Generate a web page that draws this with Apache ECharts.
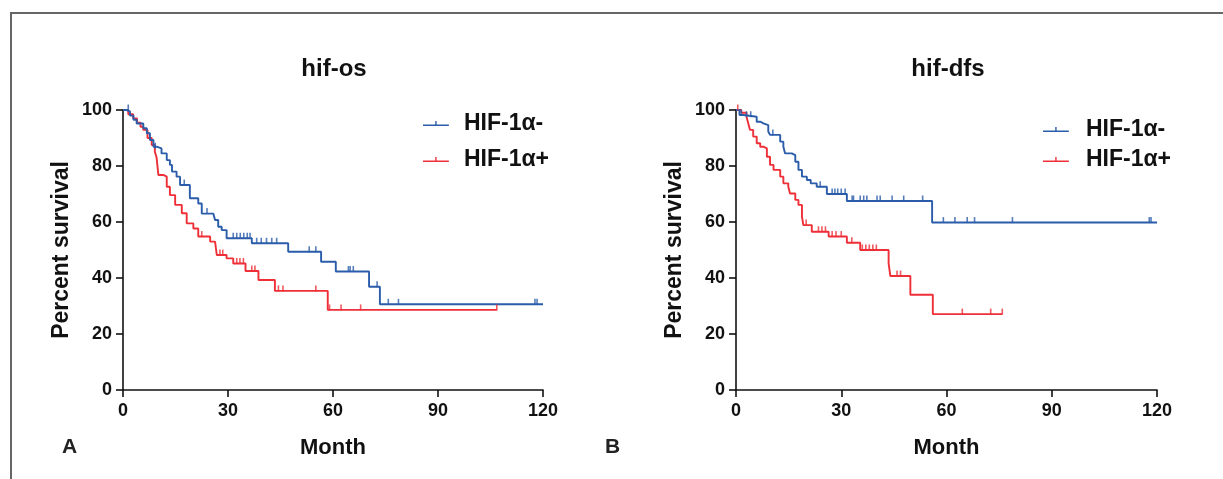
<!DOCTYPE html>
<html>
<head>
<meta charset="utf-8">
<script src="https://cdn.jsdelivr.net/npm/echarts@6/dist/echarts.min.js"></script>
<style>html,body{margin:0;padding:0;background:#fff}#c{width:1223px;height:479px}</style>
</head>
<body>
<div id="c"></div>
<script>
// ---- data ----
const xTicks = [0, 30, 60, 90, 120];
const yTicks = [0, 20, 40, 60, 80, 100];
const seriesNames = ['HIF-1α-', 'HIF-1α+'];
const panelTitles = ['hif-os', 'hif-dfs'];
const panelLetters = ['A', 'B'];

// OS, HIF-1α- : [month, percent survival] step points
const osNeg = [[0,100],[1,99.5],[2,98],[3,96.5],[3.9,95.2],[5.8,93.5],[6.8,91.7],[7.7,89.3],[8.7,86.9],[9.6,86.3],[11,84.5],[12.5,82.1],[13.4,80.4],[14,78],[15.3,76.2],[16.3,73.2],[19.1,68.5],[21.5,66.6],[22.5,63],[25.8,62.5],[26.3,60.7],[27.2,58.3],[28.2,57.1],[29.6,54.2],[36.8,52.4],[47.2,49.4],[56.6,45.8],[60.8,42.3],[70.3,36.9],[73.4,30.6],[120,30.6]];
const osNegCens = [[1.5,100],[9.2,86.3],[17.5,73.2],[24,63],[31.5,54.2],[32.5,54.2],[33.5,54.2],[34.5,54.2],[35.5,54.2],[36.3,54.2],[38.2,52.4],[39.5,52.4],[41,52.4],[42.5,52.4],[43.9,52.4],[53.2,49.4],[55.1,49.4],[64.4,42.3],[64.9,42.3],[65.8,42.3],[72.6,36.9],[75.8,30.6],[78.7,30.6],[117.7,30.6],[118.3,30.6]];
// OS, HIF-1α+
const osPos = [[0,100],[1.5,98.5],[2.9,97],[4,95.5],[5,94],[5.8,92.9],[7,90],[8.2,87.5],[9.1,85.1],[9.6,83],[10.1,76.8],[11.5,76.2],[12.5,72.6],[13.4,69.6],[14.9,66.1],[16.8,63.1],[18.2,59.5],[20.1,57.7],[21.5,54.8],[24.9,53],[26.3,52.4],[26.8,48.2],[29.6,47],[31.5,45.2],[35,42.5],[38.7,39.3],[43.4,35.4],[58.5,28.6],[106.8,28.6]];
const osPosCens = [[22.5,54.8],[27.7,48.2],[28.5,48.2],[32.5,45.2],[33.4,45.2],[34.4,45.2],[36.8,42.5],[37.7,42.5],[44.4,35.4],[45.7,35.4],[55.1,35.4],[59,28.6],[62.3,28.6],[67.9,28.6],[106.8,28.6]];
// DFS, HIF-1α-
const dfsNeg = [[0,100],[1,98.2],[2.1,97.6],[5.9,95.8],[7,95.2],[7.8,94.6],[9.2,92.3],[9.7,91.1],[12.6,88.7],[13.5,86.9],[14,84.5],[15.9,83.9],[16.9,81.5],[17.8,78.6],[18.8,76.2],[20.2,75],[21.3,73.8],[23,72.6],[25.9,70],[31.6,67.5],[55.9,59.8],[120,59.8]];
const dfsNegCens = [[1.5,98.2],[3,97.6],[4.2,97.6],[10.5,91.1],[24,72.6],[27.4,70],[28.2,70],[29,70],[30,70],[31.1,70],[33.1,67.5],[33.5,67.5],[35.4,67.5],[36.4,67.5],[37.3,67.5],[40.2,67.5],[41.1,67.5],[44.5,67.5],[47.8,67.5],[53.2,67.5],[59.1,59.8],[62.4,59.8],[65.9,59.8],[68,59.8],[78.8,59.8],[117.8,59.8],[118.3,59.8]];
// DFS, HIF-1α+
const dfsPos = [[0,100],[1.5,99],[3,97.6],[3.5,95.2],[4,92.9],[4.9,90.5],[5.9,88.1],[6.9,86.9],[7.8,86.3],[8.8,83.3],[9.7,80.4],[10.7,78.6],[12.6,76.2],[13.5,73.8],[14.9,72.6],[15.4,70.2],[16.9,67.9],[17.8,66.1],[18.8,61.9],[19.2,58.9],[21.6,56.5],[26.4,54.8],[31.6,52.6],[35.4,50],[43.5,45.2],[44,40.7],[49.7,34],[56.1,27.1],[75.9,27.1]];
const dfsPosCens = [[0.5,100],[20,58.9],[23.5,56.5],[24.5,56.5],[25.5,56.5],[27.4,54.8],[28.5,54.8],[30,54.8],[33,52.6],[36,50],[37,50],[38,50],[39,50],[40,50],[45.9,40.7],[46.9,40.7],[64.5,27.1],[72.6,27.1],[75.9,27.1]];

const curves = [[osNeg, osPos], [dfsNeg, dfsPos]];
const censors = [[osNegCens, osPosCens], [dfsNegCens, dfsPosCens]];

// ---- styling ----
const FONT = '"Liberation Sans", Arial, sans-serif';
const colors = ['#2a5caa', '#ee2f37'];
const gridBoxes = [{left:123, top:110, width:420, height:280}, {left:736, top:110, width:421, height:280}];
const legendPos = [{left:418, top:107, itemGap:13, pad:8}, {left:1038, top:113, itemGap:7, pad:10}];
const titleX = [329, 943];
const letterX = [57, 600];
const legendIcon = 'path://M0,4h30v1.8h-30z M14.2,0h1.6v4h-1.6z';

const chart = echarts.init(document.getElementById('c'), null, {renderer:'canvas'});

const xAxes = [], yAxes = [], series = [], titles = [], legends = [];
for (let p = 0; p < 2; p++) {
  xAxes.push({
    gridIndex: p, type: 'value', min: xTicks[0], max: xTicks[xTicks.length-1], interval: 30,
    name: 'Month', nameLocation: 'middle', nameGap: 47,
    nameTextStyle: {fontFamily: FONT, fontWeight: 'bold', fontSize: 22, color: '#111'},
    axisLine: {show: true, onZero: false, lineStyle: {color: '#111', width: 1.6}},
    axisTick: {show: true, length: 7, lineStyle: {color: '#111', width: 1.6}},
    axisLabel: {margin: 12, fontFamily: FONT, fontWeight: 'bold', fontSize: 18, color: '#111'},
    splitLine: {show: false}
  });
  yAxes.push({
    gridIndex: p, type: 'value', min: yTicks[0], max: yTicks[yTicks.length-1], interval: 20,
    name: 'Percent survival', nameLocation: 'middle', nameGap: 50,
    nameTextStyle: {fontFamily: FONT, fontWeight: 'bold', fontSize: 23, color: '#111'},
    axisLine: {show: true, onZero: false, lineStyle: {color: '#111', width: 1.6}},
    axisTick: {show: true, length: 7, lineStyle: {color: '#111', width: 1.6}},
    axisLabel: {margin: 11, fontFamily: FONT, fontWeight: 'bold', fontSize: 18, color: '#111'},
    splitLine: {show: false}
  });
  titles.push({
    text: panelTitles[p], left: titleX[p], top: 52, textAlign: 'center',
    textStyle: {fontFamily: FONT, fontWeight: 'bold', fontSize: 24, color: '#111'}
  });
  titles.push({
    text: panelLetters[p], left: letterX[p], top: 432,
    textStyle: {fontFamily: FONT, fontWeight: 'bold', fontSize: 21, color: '#222'}
  });
  legends.push({
    orient: 'vertical', left: legendPos[p].left, top: legendPos[p].top, itemGap: legendPos[p].itemGap,
    itemWidth: 30, itemHeight: 5, selectedMode: false,
    data: seriesNames.map((n, i) => ({name: n, icon: legendIcon, itemStyle: {color: colors[i]}})),
    textStyle: {fontFamily: FONT, fontWeight: 'bold', fontSize: 23, color: '#111', padding: [0,0,0,legendPos[p].pad]}
  });
  for (let s = 0; s < 2; s++) {
    series.push({
      name: seriesNames[s], type: 'line', step: 'end', xAxisIndex: p, yAxisIndex: p,
      data: curves[p][s], showSymbol: false, symbol: 'none', animation: false,
      lineStyle: {color: colors[s], width: 1.9}, itemStyle: {color: colors[s]}, z: 3 - s
    });
    series.push({
      name: seriesNames[s], type: 'scatter', xAxisIndex: p, yAxisIndex: p,
      data: censors[p][s], symbol: 'rect', symbolSize: [1.6, 6], symbolOffset: [0, -2.5],
      itemStyle: {color: colors[s]}, animation: false, z: 4
    });
  }
}

chart.setOption({
  backgroundColor: '#fff',
  animation: false,
  title: titles,
  legend: legends,
  grid: gridBoxes,
  xAxis: xAxes,
  yAxis: yAxes,
  series: series,
  graphic: [
    {type: 'polyline', shape: {points: [[11, 479], [11, 13], [1223, 13]]}, style: {stroke: '#666', lineWidth: 2, fill: null}, silent: true}
  ]
});
</script>
</body>
</html>
